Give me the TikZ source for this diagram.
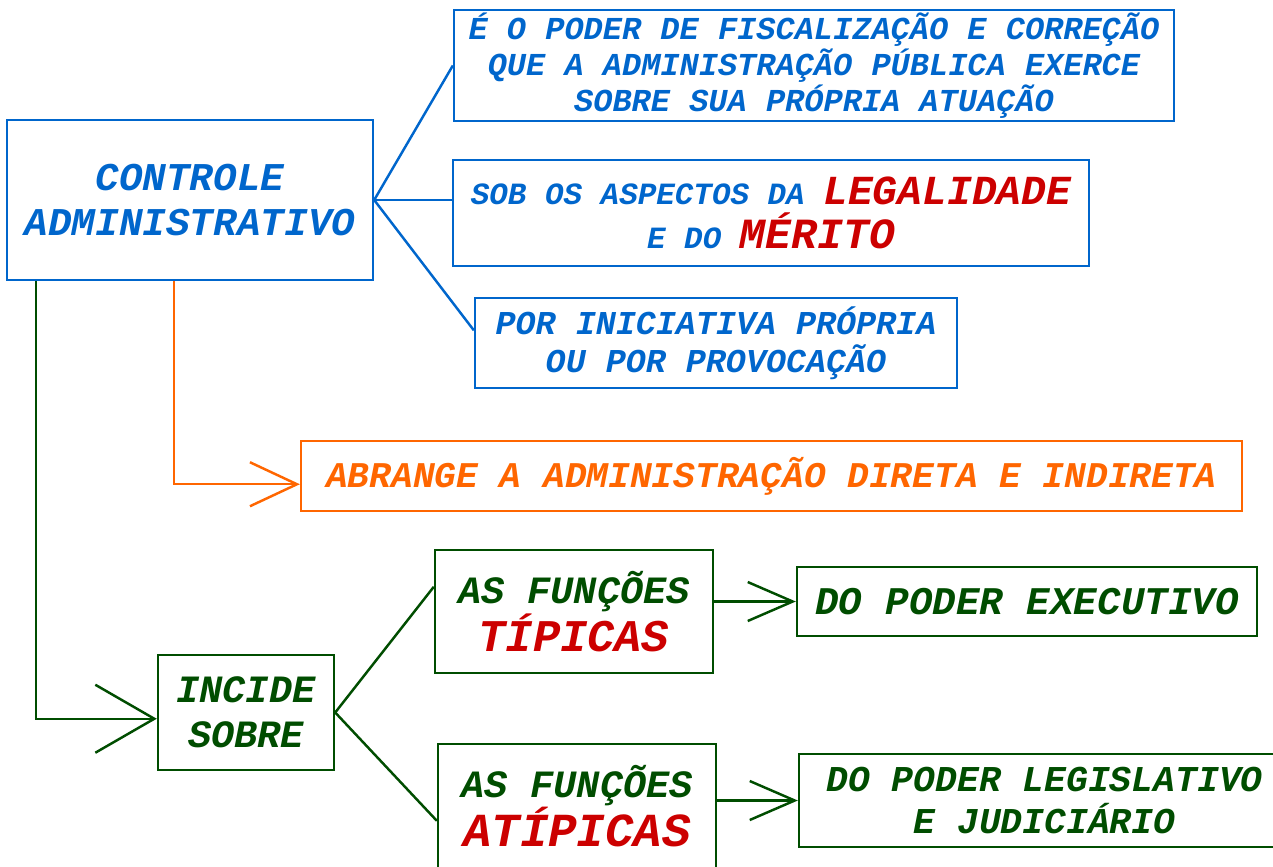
\documentclass[tikz,border=0pt]{standalone}
\usepackage{amsmath,amssymb,fontspec}
\usepackage{tikz}
\usetikzlibrary{arrows.meta,positioning}
\newfontfamily\cour{Liberation Mono}
\definecolor{azul}{RGB}{0,102,204}
\definecolor{laranja}{RGB}{255,102,0}
\definecolor{verde}{RGB}{0,77,0}
\definecolor{verm}{RGB}{204,0,0}
\newcommand{\fs}[2]{\fontsize{#1}{#2}\selectfont}
\newcommand{\cf}[2]{\cour\bfseries\itshape\fontsize{#1}{#2}\selectfont}

\begin{document}
\begin{tikzpicture}[x=0.02cm,y=-0.02cm,line width=1.4pt,
    box/.style={draw,rectangle,align=center,inner sep=0pt},
    azbox/.style={box,draw=azul,text=azul},
    lrbox/.style={box,draw=laranja,text=laranja},
    vdbox/.style={box,draw=verde,text=verde},
    setag/.style={-{Straight Barb[length=1.18cm,width=1.36cm]}},
    setam/.style={-{Straight Barb[length=0.94cm,width=0.88cm]}},
    setap/.style={-{Straight Barb[length=0.9cm,width=0.78cm]}}]
\useasboundingbox (0,0) rectangle (1273,866);
               \node[azbox,minimum width=7.32cm,minimum height=3.2cm,font=\cf{22.4}{25.5}] (ctrl) at (190,200) {CONTROLE\\ADMINISTRATIVO};
               \node[azbox,minimum width=14.4cm,minimum height=2.22cm,font=\cf{18.2}{20.6}] (def) at (814,65.5) {É O PODER DE FISCALIZAÇÃO E CORREÇÃO\\QUE A ADMINISTRAÇÃO PÚBLICA EXERCE\\SOBRE SUA PRÓPRIA ATUAÇÃO};
               \node[azbox,minimum width=12.72cm,minimum height=2.12cm,font=\cf{17.6}{25}] (asp) at (771,213) {SOB OS ASPECTOS DA {\color{verm}\fs{23.5}{25}LEGALIDADE}\\E DO {\color{verm}\fs{24.5}{25}MÉRITO}};
               \node[azbox,minimum width=9.64cm,minimum height=1.8cm,font=\cf{19}{21.5}] (ini) at (716,343) {POR INICIATIVA PRÓPRIA\\OU POR PROVOCAÇÃO};
               \node[lrbox,minimum width=18.82cm,minimum height=1.4cm,font=\cf{20.6}{24}] (abr) at (771.5,476) {ABRANGE A ADMINISTRAÇÃO DIRETA E INDIRETA};
               \node[vdbox,minimum width=3.52cm,minimum height=2.3cm,font=\cf{22}{25.5}] (inc) at (246,712.5) {INCIDE\\SOBRE};
               \node[vdbox,minimum width=5.56cm,minimum height=2.46cm,font=\cf{22}{27}] (tip) at (574,611.5) {AS FUNÇÕES\\{\color{verm}\fs{25.8}{27}TÍPICAS}};
               \node[vdbox,minimum width=5.56cm,minimum height=2.48cm,font=\cf{22}{28}] (atip) at (577,806) {AS FUNÇÕES\\{\color{verm}\fs{27}{28}ATÍPICAS}};
               \node[vdbox,minimum width=9.2cm,minimum height=1.38cm,font=\cf{22.3}{25}] (exe) at (1027,601.5) {DO PODER EXECUTIVO};
               \node[vdbox,minimum width=9.82cm,minimum height=1.86cm,font=\cf{20.7}{24}] (leg) at (1044.5,800.5) {DO PODER LEGISLATIVO\\E JUDICIÁRIO};
		\path[azul]
			(ctrl.east)	edge (def.west)
					edge (asp.west |- ctrl.east)
					edge (ini.177);
		\draw[laranja,setam] ([xshift=-0.32cm]ctrl.south) |- (abr.181);
		\draw[verde,setag] ([xshift=0.6cm]ctrl.south west) |- (inc.184);
		\path[verde]
			(inc.east)	edge (tip.170)
					edge (atip.186);
		\path[verde,setap]
			(exe.west -| tip.east)	edge (exe.west)
			(leg.west -| atip.east)	edge (leg.west);
            \end{tikzpicture}
\end{document}
